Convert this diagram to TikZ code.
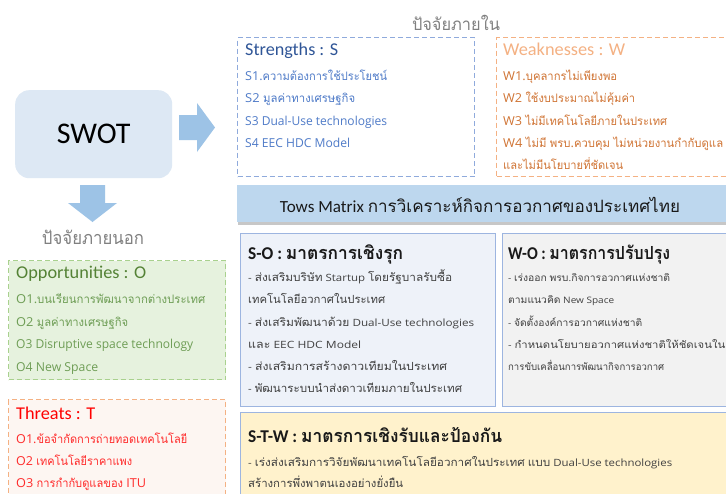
\documentclass[tikz,border=0pt]{standalone}
\usepackage{fontspec}
\usepackage{graphicx}
\setmainfont{Carlito}
\newfontfamily\thaiA[Script=Thai]{Loma}
\newfontfamily\thaiB[Script=Thai,Scale=0.95,FakeStretch=0.92]{Loma}
\newfontfamily\thaiC[Script=Thai,Scale=1.12,FakeStretch=0.92]{Loma}
\newfontfamily\latA{Carlito}
\newfontfamily\latB{Open Sans}
\let\curthai\thaiA
\let\curlat\latA
\XeTeXinterchartokenstate=1
\newXeTeXintercharclass\thaiclass
\count255="0E00
\loop\XeTeXcharclass\count255=\thaiclass\ifnum\count255<"0E7F\advance\count255 by 1\repeat
\XeTeXinterchartoks 0 \thaiclass = {\curthai}
\XeTeXinterchartoks 4095 \thaiclass = {\curthai}
\XeTeXinterchartoks \thaiclass 0 = {\curlat}
\XeTeXinterchartoks \thaiclass 4095 = {\curlat}
\newcommand\itemfonts{\let\curthai\thaiB\let\curlat\latB\latB}
\newcommand\matfonts{\let\curthai\thaiC\let\curlat\latB\latB}
\newcommand\fw[2]{\resizebox{#1pt}{\height}{#2}}
\definecolor{swotfill}{HTML}{DDE8F4}
\definecolor{arrowc}{HTML}{9DC3E6}
\definecolor{hdr}{HTML}{808080}
\definecolor{strB}{HTML}{8FAADC}
\definecolor{strT}{HTML}{2F5597}
\definecolor{strI}{HTML}{4F7BC8}
\definecolor{wkB}{HTML}{F4B183}
\definecolor{wkT}{HTML}{F4B183}
\definecolor{wkI}{HTML}{D07434}
\definecolor{opF}{HTML}{E6F2DE}
\definecolor{opB}{HTML}{A9D18E}
\definecolor{opT}{HTML}{548235}
\definecolor{opI}{HTML}{6E9D55}
\definecolor{thF}{HTML}{FDF6F2}
\definecolor{thT}{HTML}{FF0000}
\definecolor{thI}{HTML}{FF2B2B}
\definecolor{towsF}{HTML}{BDD7EE}
\definecolor{soF}{HTML}{EEF2F9}
\definecolor{woF}{HTML}{F2F2F2}
\definecolor{stwF}{HTML}{FFF2CC}
\definecolor{matB}{HTML}{9DB5E0}
\definecolor{dark}{HTML}{404040}
\tikzset{
  dbox/.style={draw, line width=1.1pt, dash pattern=on 5pt off 3pt, anchor=north west, inner sep=0},
  mbox/.style={draw=matB, line width=1.4pt, anchor=north west, inner sep=0},
  item/.style={anchor=base west, inner sep=0, font=\itemfonts\fontsize{12.3}{15}\selectfont},
  mitem/.style={anchor=base west, inner sep=0, font=\matfonts\fontsize{10}{12}\selectfont, text=dark},
  wmitem/.style={mitem, font=\matfonts\fontsize{8.9}{11}\selectfont},
  ttl/.style={anchor=base west, inner sep=0, font=\fontsize{18}{20}\selectfont},
  bttl/.style={anchor=base west, inner sep=0, font=\fontsize{18}{20}\selectfont\bfseries, text=black!90},
  hdrtxt/.style={inner sep=0, font=\fontsize{17}{20}\selectfont, text=hdr},
  blockarrow/.style={fill=arrowc, draw=none}
}
\begin{document}
\begin{tikzpicture}[x=1pt,y=-1pt]
\clip (0,0) rectangle (726,493);
\fill[white] (0,0) rectangle (726,493);
% headers
\node[hdrtxt] (hin) at (456,23) {\fw{88}{ปัจจัยภายใน}};
\node[hdrtxt, font=\fontsize{18}{20}\selectfont] (hout) at (93,237) {\fw{102}{ปัจจัยภายนอก}};
% SWOT
\node[fill=swotfill, rounded corners=14pt, minimum width=157, minimum height=88, anchor=north west, inner sep=0] (swot) at (15,90) {};
\node[inner sep=0, font=\fontsize{30}{32}\selectfont] (swott) at (swot.center) {SWOT};
% arrows
\fill[blockarrow] (179,115) -- (197,115) -- (197,103) -- (215,127.5) -- (197,152) -- (197,140) -- (179,140) -- cycle;
\fill[blockarrow] (80,185) -- (105,185) -- (105,203) -- (117,203) -- (92.5,222) -- (68,203) -- (80,203) -- cycle;
% Strengths
\node[dbox, draw=strB, minimum width=237, minimum height=139] (str) at (237,37) {};
\node[ttl, text=strT] (strt) at (245,55) {\fw{93}{Strengths : S}};
\node[item, text=strI] (s1) at (245,80) {\fw{142}{S1.ความต้องการใช้ประโยชน์}};
\node[item, text=strI] (s2) at (245,102) {\fw{110}{S2 มูลค่าทางเศรษฐกิจ}};
\node[item, text=strI] (s3) at (245,125) {\fw{142}{S3 Dual-Use technologies}};
\node[item, text=strI] (s4) at (245,147) {\fw{105}{S4 EEC HDC Model}};
% Weaknesses
\node[dbox, draw=wkB, minimum width=260, minimum height=139] (wk) at (496,37) {};
\node[ttl, text=wkT] (wkt) at (503,55) {\fw{122}{Weaknesses : W}};
\node[item, text=wkI] (w1) at (503,80) {\fw{114}{W1.บุคลากรไม่เพียงพอ}};
\node[item, text=wkI] (w2) at (503,102) {\fw{132}{W2 ใช้งบประมาณไม่คุ้มค่า}};
\node[item, text=wkI] (w3) at (503,125) {\fw{164}{W3 ไม่มีเทคโนโลยีภายในประเทศ}};
\node[item, text=wkI] (w4) at (503,147) {\fw{220}{W4 ไม่มี พรบ.ควบคุม ไม่หน่วยงานกำกับดูแล}};
\node[item, text=wkI] (w5) at (503,169) {\fw{120}{และไม่มีนโยบายที่ชัดเจน}};
% Tows bar
\fill[black!22] (238,187) rectangle (760,225);
\node[fill=towsF, minimum width=520, minimum height=37, anchor=north west, inner sep=0] (tows) at (237,185) {};
\node[inner sep=0, font=\fontsize{17}{20}\selectfont, text=black!90] (towst) at (480,205) {\fw{400}{Tows Matrix การวิเคราะห์กิจการอวกาศของประเทศไทย}};
% S-O
\node[mbox, fill=soF, minimum width=255, minimum height=173] (so) at (240,233) {};
\node[bttl] (sot) at (248,259) {\fw{155}{S-O : มาตรการเชิงรุก}};
\node[mitem] (so1) at (248,281) {\fw{204}{- ส่งเสริมบริษัท Startup โดยรัฐบาลรับซื้อ}};
\node[mitem] (so2) at (248,303) {\fw{137}{เทคโนโลยีอวกาศในประเทศ}};
\node[mitem] (so3) at (248,326) {\fw{226}{- ส่งเสริมพัฒนาด้วย Dual-Use technologies}};
\node[mitem] (so4) at (248,348) {\fw{113}{และ EEC HDC Model}};
\node[mitem] (so5) at (248,370) {\fw{199}{- ส่งเสริมการสร้างดาวเทียมในประเทศ}};
\node[mitem] (so6) at (248,392) {\fw{214}{- พัฒนาระบบนำส่งดาวเทียมภายในประเทศ}};
% W-O
\node[mbox, fill=woF, minimum width=260, minimum height=173] (wo) at (502,233) {};
\node[bttl] (wot) at (508,259) {\fw{162}{W-O : มาตรการปรับปรุง}};
\node[wmitem] (wo1) at (508,281) {\fw{162}{- เร่งออก พรบ.กิจการอวกาศแห่งชาติ}};
\node[wmitem] (wo2) at (508,303) {\fw{106}{ตามแนวคิด New Space}};
\node[wmitem] (wo3) at (508,326) {\fw{134}{- จัดตั้งองค์การอวกาศแห่งชาติ}};
\node[wmitem] (wo4) at (508,348) {\fw{217}{- กำหนดนโยบายอวกาศแห่งชาติให้ชัดเจนใน}};
\node[wmitem] (wo5) at (508,370) {\fw{156}{การขับเคลื่อนการพัฒนากิจการอวกาศ}};
% S-T-W
\node[mbox, fill=stwF, minimum width=520, minimum height=100] (stw) at (240,412) {};
\node[bttl] (stwt) at (248,442) {\fw{254}{S-T-W : มาตรการเชิงรับและป้องกัน}};
\node[mitem] (stw1) at (248,466) {\fw{424}{- เร่งส่งเสริมการวิจัยพัฒนาเทคโนโลยีอวกาศในประเทศ แบบ Dual-Use technologies}};
\node[mitem] (stw2) at (248,487) {\fw{155}{สร้างการพึ่งพาตนเองอย่างยั่งยืน}};
% Opportunities
\node[dbox, draw=opB, fill=opF, minimum width=217, minimum height=119] (op) at (8,260) {};
\node[ttl, text=opT] (opt) at (16,278) {\fw{130}{Opportunities : O}};
\node[item, text=opI] (o1) at (16,303) {\fw{189}{O1.บนเรียนการพัฒนาจากต่างประเทศ}};
\node[item, text=opI] (o2) at (16,326) {\fw{112}{O2 มูลค่าทางเศรษฐกิจ}};
\node[item, text=opI] (o3) at (16,348) {\fw{177}{O3 Disruptive space technology}};
\node[item, text=opI] (o4) at (16,371) {\fw{82}{O4 New Space}};
% Threats
\node[dbox, draw=wkB, fill=thF, minimum width=217, minimum height=110] (th) at (8,399) {};
\node[ttl, text=thT] (tht) at (16,419) {\fw{79}{Threats : T}};
\node[item, text=thI] (t1) at (16,443) {\fw{171}{O1.ข้อจำกัดการถ่ายทอดเทคโนโลยี}};
\node[item, text=thI] (t2) at (16,465) {\fw{116}{O2 เทคโนโลยีราคาแพง}};
\node[item, text=thI] (t3) at (16,487) {\fw{130}{O3 การกำกับดูแลของ ITU}};
\end{tikzpicture}
\end{document}
